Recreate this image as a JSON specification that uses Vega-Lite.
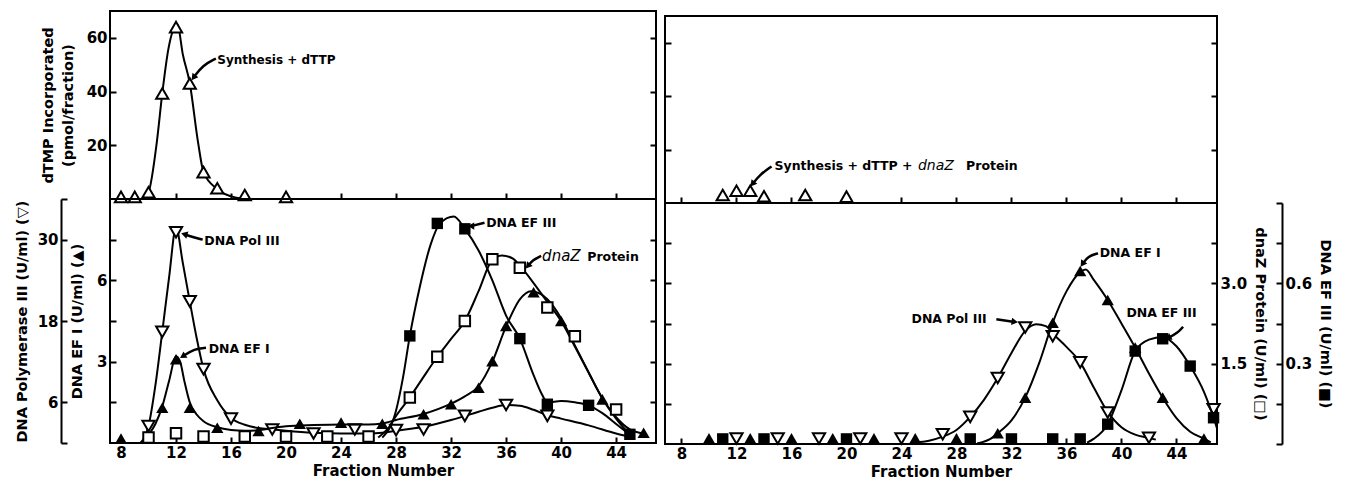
{
  "$schema": "https://vega.github.io/schema/vega-lite/v6.json",
  "background": "white",
  "padding": {"left": 13, "top": 10, "right": 5, "bottom": 5},
  "spacing": 5,
  "bounds": "full",
  "config": {
    "font": "DejaVu Sans",
    "view": {"stroke": "black", "strokeWidth": 2},
    "axis": {"domain": false, "grid": false, "ticks": true, "tickColor": "black", "tickWidth": 2, "tickSize": -6,
      "labelFont": "DejaVu Sans", "labelFontSize": 15, "labelFontWeight": "bold", "labelColor": "black", "labelPadding": 9,
      "titleFont": "DejaVu Sans", "titleFontSize": 14.5, "titleFontWeight": "bold", "titleColor": "black", "titlePadding": 4}
  },
  "datasets": {
    "A_pts": [{"f":8,"v":0.8},{"f":9,"v":0.8},{"f":10,"v":2.5},{"f":11,"v":39.3},{"f":12,"v":64},{"f":13,"v":43},{"f":14,"v":10},{"f":15,"v":4},{"f":17,"v":1.5},{"f":20,"v":0.8}],
    "A_curve": [{"f":9.6,"v":0.3},{"f":10,"v":2.5},{"f":10.6,"v":21},{"f":11,"v":39.3},{"f":11.45,"v":56},{"f":12.1,"v":65},{"f":12.5,"v":53.7},{"f":13,"v":43.1},{"f":13.6,"v":21.2},{"f":14,"v":10},{"f":15,"v":3.7},{"f":16.3,"v":0.6},{"f":17.3,"v":0.1}],
    "A_txt": [{"f":15.0,"v":51.9,"t":"Synthesis + dTTP"}],
    "A_arr": [{"id":1,"o":0,"f":14.9,"v":52.3},{"id":1,"o":1,"f":13.94,"v":49.8},{"id":1,"o":2,"f":13.27,"v":45.2}],
    "C_pts": [{"f":11,"v":3},{"f":12,"v":4.6},{"f":13,"v":4.6},{"f":14,"v":2.5},{"f":17,"v":3},{"f":20,"v":2.4}],
    "C_txt": [{"f":14.77,"v":13.7,"t":"Synthesis + dTTP +"},{"f":28.7,"v":13.7,"t":"Protein"}],
    "C_ital": [{"f":25.2,"v":13.9,"t":"dnaZ"}],
    "C_arr": [{"id":1,"o":0,"f":14.55,"v":13.7},{"id":1,"o":1,"f":13.7,"v":10.6},{"id":1,"o":2,"f":13.16,"v":7.1}],
    "B_pol_pts": [{"f":10,"v":2.5},{"f":11,"v":16.4},{"f":12,"v":31.1},{"f":13,"v":20.9},{"f":14,"v":10.9},{"f":16,"v":3.6},{"f":19,"v":2.0},{"f":22,"v":1.4},{"f":25,"v":2.0},{"f":28,"v":1.9},{"f":30,"v":2.0},{"f":33,"v":4.0},{"f":36,"v":5.6},{"f":39,"v":4.0}],
    "B_pol_curve": [{"f":9.4,"v":0},{"f":10,"v":2.5},{"f":10.5,"v":8.5},{"f":11,"v":16.4},{"f":11.5,"v":24.5},{"f":12,"v":31.8},{"f":12.5,"v":26.5},{"f":13,"v":20.9},{"f":13.5,"v":15.5},{"f":14,"v":10.9},{"f":15,"v":6.3},{"f":16,"v":3.7},{"f":17,"v":2.7},{"f":18,"v":2.2},{"f":19,"v":2.0},{"f":20,"v":1.8},{"f":22,"v":1.5},{"f":24,"v":1.4},{"f":26,"v":1.4},{"f":27,"v":1.5},{"f":28,"v":1.8},{"f":30,"v":2.4},{"f":32,"v":3.4},{"f":34,"v":4.6},{"f":35,"v":5.2},{"f":36,"v":5.6},{"f":37,"v":5.5},{"f":38,"v":4.9},{"f":39,"v":4.1},{"f":40,"v":3.6},{"f":42,"v":2.6},{"f":44,"v":1.4},{"f":45,"v":0.9}],
    "B_ef1_pts": [{"f":8,"v":0.16},{"f":11,"v":1.3},{"f":12,"v":3.09},{"f":13,"v":1.3},{"f":15,"v":0.56},{"f":18,"v":0.44},{"f":21,"v":0.71},{"f":24,"v":0.75},{"f":27,"v":0.71},{"f":30,"v":1.06},{"f":32,"v":1.43},{"f":34,"v":2.04},{"f":35,"v":3.02},{"f":36,"v":4.32},{"f":38,"v":5.56},{"f":40,"v":4.5},{"f":43,"v":1.61},{"f":46,"v":0.38}],
    "B_ef1_curve": [{"f":9.5,"v":0},{"f":10,"v":0.3},{"f":10.5,"v":0.7},{"f":11,"v":1.35},{"f":11.5,"v":2.3},{"f":12,"v":3.2},{"f":12.3,"v":3.0},{"f":12.6,"v":2.3},{"f":13,"v":1.5},{"f":13.5,"v":1.05},{"f":14,"v":0.8},{"f":15,"v":0.58},{"f":16,"v":0.48},{"f":17,"v":0.45},{"f":18,"v":0.47},{"f":19,"v":0.55},{"f":20,"v":0.62},{"f":22,"v":0.66},{"f":24,"v":0.68},{"f":26,"v":0.68},{"f":27,"v":0.72},{"f":28,"v":0.85},{"f":30,"v":1.07},{"f":32,"v":1.45},{"f":33,"v":1.72},{"f":34,"v":2.1},{"f":35,"v":3.0},{"f":36,"v":4.3},{"f":37,"v":5.3},{"f":37.8,"v":5.6},{"f":38.5,"v":5.5},{"f":39,"v":5.3},{"f":40,"v":4.6},{"f":41,"v":3.6},{"f":42,"v":2.6},{"f":43,"v":1.65},{"f":44,"v":0.95},{"f":45,"v":0.5},{"f":46,"v":0.35}],
    "B_dz_pts": [{"f":10,"v":0.1},{"f":12,"v":0.18},{"f":14,"v":0.12},{"f":17,"v":0.12},{"f":20,"v":0.12},{"f":23,"v":0.12},{"f":26,"v":0.12},{"f":29,"v":0.84},{"f":31,"v":1.59},{"f":33,"v":2.25},{"f":35,"v":3.39},{"f":37,"v":3.23},{"f":39,"v":2.5},{"f":41,"v":1.97},{"f":44,"v":0.62}],
    "B_dz_curve": [{"f":26.7,"v":0.1},{"f":27.5,"v":0.3},{"f":28,"v":0.5},{"f":29,"v":0.84},{"f":30,"v":1.22},{"f":31,"v":1.59},{"f":32,"v":1.92},{"f":33,"v":2.25},{"f":34,"v":2.8},{"f":35,"v":3.38},{"f":35.7,"v":3.46},{"f":36.5,"v":3.4},{"f":37,"v":3.27},{"f":38,"v":2.95},{"f":39,"v":2.6},{"f":40,"v":2.25},{"f":41,"v":1.78},{"f":42,"v":1.3},{"f":43,"v":0.82},{"f":44,"v":0.45},{"f":45,"v":0.15}],
    "B_ef3_pts": [{"f":29,"v":0.395},{"f":31,"v":0.81},{"f":33,"v":0.79},{"f":37,"v":0.385},{"f":39,"v":0.143},{"f":42,"v":0.139},{"f":45,"v":0.032}],
    "B_ef3_curve": [{"f":27,"v":0.02},{"f":28,"v":0.12},{"f":28.5,"v":0.24},{"f":29,"v":0.395},{"f":29.7,"v":0.57},{"f":30.5,"v":0.73},{"f":31.2,"v":0.81},{"f":32.2,"v":0.835},{"f":33,"v":0.79},{"f":34,"v":0.71},{"f":35,"v":0.6},{"f":36,"v":0.47},{"f":37,"v":0.385},{"f":38,"v":0.25},{"f":38.6,"v":0.18},{"f":39,"v":0.15},{"f":40,"v":0.155},{"f":41,"v":0.15},{"f":42,"v":0.139},{"f":43,"v":0.11},{"f":44,"v":0.07},{"f":45,"v":0.03}],
    "B_txt": [{"f":14.06,"v":29.8,"t":"DNA Pol III"},{"f":14.38,"v":13.8,"t":"DNA EF I"},{"f":34.55,"v":32.5,"t":"DNA EF III"},{"f":41.9,"v":27.5,"t":"Protein"}],
    "B_ital": [{"f":38.62,"v":27.6,"t":"dnaZ"}],
    "B_arr": [{"id":1,"o":0,"f":13.94,"v":30.0},{"id":1,"o":1,"f":13.2,"v":30.4},{"id":1,"o":2,"f":12.6,"v":30.8},
              {"id":2,"o":0,"f":14.18,"v":14.06},{"id":2,"o":1,"f":13.34,"v":13.9},{"id":2,"o":2,"f":12.49,"v":12.8},
              {"id":3,"o":0,"f":34.43,"v":32.5},{"id":3,"o":1,"f":33.45,"v":32.0},
              {"id":4,"o":0,"f":38.55,"v":27.6},{"id":4,"o":1,"f":37.94,"v":27.0},{"id":4,"o":2,"f":37.58,"v":26.1}],
    "D_pol_pts": [{"f":12,"v":0.82},{"f":15,"v":0.82},{"f":18,"v":0.82},{"f":21,"v":0.82},{"f":24,"v":0.82},{"f":27,"v":1.45},{"f":29,"v":4.05},{"f":31,"v":9.85},{"f":33,"v":17.4},{"f":35,"v":16.1},{"f":37,"v":12.2},{"f":39,"v":4.7},{"f":42,"v":0.94},{"f":46.7,"v":5.2}],
    "D_pol_curve": [{"f":25,"v":0.25},{"f":26,"v":0.5},{"f":27,"v":1.1},{"f":28,"v":2.1},{"f":29,"v":4.05},{"f":30,"v":6.6},{"f":31,"v":9.85},{"f":32,"v":13.6},{"f":33,"v":16.9},{"f":33.8,"v":17.9},{"f":34.5,"v":17.6},{"f":35,"v":16.5},{"f":36,"v":14.5},{"f":37,"v":12.2},{"f":38,"v":8.4},{"f":39,"v":4.8},{"f":40,"v":2.5},{"f":41,"v":1.4},{"f":42,"v":0.9},{"f":42.5,"v":0.65}],
    "D_ef1_pts": [{"f":10,"v":0.21},{"f":13,"v":0.21},{"f":16,"v":0.21},{"f":19,"v":0.21},{"f":22,"v":0.21},{"f":25,"v":0.21},{"f":28,"v":0.21},{"f":31,"v":0.4},{"f":33,"v":1.73},{"f":35,"v":4.53},{"f":37,"v":6.46},{"f":39,"v":5.38},{"f":41,"v":3.6},{"f":43,"v":1.73},{"f":46,"v":0.2}],
    "D_ef1_curve": [{"f":29.5,"v":0.02},{"f":30.5,"v":0.2},{"f":31,"v":0.4},{"f":32,"v":0.88},{"f":33,"v":1.73},{"f":34,"v":3.0},{"f":35,"v":4.53},{"f":36,"v":5.7},{"f":37,"v":6.42},{"f":37.4,"v":6.52},{"f":38,"v":6.12},{"f":39,"v":5.38},{"f":40,"v":4.5},{"f":41,"v":3.6},{"f":42,"v":2.63},{"f":43,"v":1.73},{"f":44,"v":0.97},{"f":45,"v":0.46},{"f":46,"v":0.2},{"f":46.5,"v":0.06}],
    "D_ef3_pts": [{"f":11,"v":0.019},{"f":14,"v":0.019},{"f":20,"v":0.019},{"f":29,"v":0.019},{"f":32,"v":0.019},{"f":35,"v":0.019},{"f":37,"v":0.019},{"f":39,"v":0.074},{"f":41,"v":0.347},{"f":43,"v":0.393},{"f":45,"v":0.291},{"f":46.7,"v":0.098}],
    "D_ef3_curve": [{"f":37.5,"v":0.005},{"f":38,"v":0.02},{"f":39,"v":0.074},{"f":40,"v":0.2},{"f":41,"v":0.347},{"f":42,"v":0.39},{"f":43,"v":0.4},{"f":44,"v":0.365},{"f":45,"v":0.291},{"f":46,"v":0.195},{"f":46.7,"v":0.098},{"f":47,"v":0.05}],
    "D_txt": [{"f":24.73,"v":2.34,"t":"DNA Pol III"},{"f":38.42,"v":3.57,"t":"DNA EF I"},{"f":40.36,"v":2.44,"t":"DNA EF III"}],
    "D_arr": [{"id":1,"o":0,"f":30.9,"v":2.33},{"id":1,"o":1,"f":32.24,"v":2.28},
              {"id":2,"o":0,"f":38.3,"v":3.56},{"id":2,"o":1,"f":37.57,"v":3.51},{"id":2,"o":2,"f":37.16,"v":3.36},
              {"id":3,"o":0,"f":44.48,"v":2.19},{"id":3,"o":1,"f":44.12,"v":2.08},{"id":3,"o":2,"f":43.39,"v":1.98}]
  },
  "hconcat": [
    {
      "spacing": 0,
      "bounds": "flush",
      "vconcat": [
        {
          "width": 546, "height": 188,
          "encoding": {"x": {"field": "f", "type": "quantitative", "scale": {"domain": [7.2, 46.9], "nice": false, "zero": false},
            "axis": {"values": [8,12,16,20,24,28,32,36,40,44], "labels": false, "title": null}}},
          "layer": [
            {
              "encoding": {"y": {"field": "v", "type": "quantitative", "scale": {"domain": [0, 70], "nice": false},
                "axis": {"orient": "left", "values": [20, 40, 60], "title": ["dTMP Incorporated", "(pmol/fraction)"], "titleLineHeight": 20, "titlePadding": 11}}},
              "layer": [
                {"data": {"name": "A_curve"}, "mark": {"type": "line", "interpolate": "monotone", "color": "black", "strokeWidth": 2, "clip": true}, "encoding": {}},
                {"data": {"name": "A_pts"}, "mark": {"type": "point", "shape": "triangle-up", "filled": true, "fill": "white", "stroke": "black", "strokeWidth": 2, "size": 150, "opacity": 1}, "encoding": {}}
              ]
            },
            {
              "encoding": {"y": {"field": "v", "type": "quantitative", "scale": {"domain": [0, 70], "nice": false},
                "axis": {"orient": "right", "values": [20, 40, 60], "labels": false, "title": null}}},
              "layer": [
                {"data": {"name": "A_txt"}, "mark": {"type": "text", "align": "left", "baseline": "middle", "font": "DejaVu Sans", "fontSize": 12, "fontWeight": "bold", "color": "black"}, "encoding": {"text": {"field": "t"}}},
                {"data": {"name": "A_arr"}, "mark": {"type": "line", "interpolate": "basis", "color": "black", "strokeWidth": 2.5}, "encoding": {"detail": {"field": "id"}, "order": {"field": "o"}}},
                {"data": {"name": "A_arr"}, "transform": [{"filter": "datum.id == 1 && datum.o == 2"}], "mark": {"type": "point", "shape": "triangle-up", "angle": 217, "filled": true, "color": "black", "size": 55, "opacity": 1}, "encoding": {}},
                {"data": {"values": [{}]}, "mark": {"type": "text", "align": "left", "baseline": "middle", "font": "DejaVu Sans", "fontSize": 15, "fontWeight": "bold", "color": "black"},
                  "encoding": {"x": {"datum": 8.41}, "y": {"datum": 62.5}, "text": {"value": "A"}}}
              ]
            }
          ],
          "resolve": {"scale": {"y": "independent"}, "axis": {"y": "independent"}}
        },
        {
          "width": 546, "height": 244,
          "encoding": {"x": {"field": "f", "type": "quantitative", "scale": {"domain": [7.2, 46.9], "nice": false, "zero": false},
            "axis": {"values": [8,12,16,20,24,28,32,36,40,44], "labelPadding": 8, "title": "Fraction Number", "titleFontSize": 15, "titlePadding": 3}}},
          "layer": [
            {
              "encoding": {"y": {"field": "v", "type": "quantitative", "scale": {"domain": [0, 36], "nice": false},
                "axis": {"orient": "left", "offset": 49, "values": [0, 6, 18, 30, 36], "labelExpr": "datum.value == 0 || datum.value == 36 ? '' : datum.label",
                  "domain": true, "domainColor": "black", "domainWidth": 2, "title": "DNA Polymerase III (U/ml) (▽)", "titlePadding": 8}}},
              "layer": [
                {"data": {"name": "B_pol_curve"}, "mark": {"type": "line", "interpolate": "monotone", "color": "black", "strokeWidth": 2, "clip": true}, "encoding": {}},
                {"data": {"name": "B_pol_pts"}, "mark": {"type": "point", "shape": "triangle-down", "filled": true, "fill": "white", "stroke": "black", "strokeWidth": 2, "size": 150, "opacity": 1}, "encoding": {}}
              ]
            },
            {
              "encoding": {"y": {"field": "v", "type": "quantitative", "scale": {"domain": [0, 9], "nice": false},
                "axis": {"orient": "left", "values": [1.5, 3, 4.5, 6, 7.5], "labelExpr": "datum.value == 3 || datum.value == 6 ? datum.label : ''",
                  "title": "DNA EF I (U/ml) (▲)", "titlePadding": 12}}},
              "layer": [
                {"data": {"name": "B_ef1_curve"}, "mark": {"type": "line", "interpolate": "monotone", "color": "black", "strokeWidth": 2, "clip": true}, "encoding": {}},
                {"data": {"name": "B_ef1_pts"}, "mark": {"type": "point", "shape": "triangle-up", "filled": true, "color": "black", "size": 150, "opacity": 1}, "encoding": {}}
              ]
            },
            {
              "encoding": {"y": {"field": "v", "type": "quantitative", "scale": {"domain": [0, 4.5], "nice": false}, "axis": null}},
              "layer": [
                {"data": {"name": "B_dz_curve"}, "mark": {"type": "line", "interpolate": "monotone", "color": "black", "strokeWidth": 2, "clip": true}, "encoding": {}},
                {"data": {"name": "B_dz_pts"}, "mark": {"type": "point", "shape": "square", "filled": true, "fill": "white", "stroke": "black", "strokeWidth": 2, "size": 110, "opacity": 1}, "encoding": {}}
              ]
            },
            {
              "encoding": {"y": {"field": "v", "type": "quantitative", "scale": {"domain": [0, 0.9], "nice": false}, "axis": null}},
              "layer": [
                {"data": {"name": "B_ef3_curve"}, "mark": {"type": "line", "interpolate": "monotone", "color": "black", "strokeWidth": 2, "clip": true}, "encoding": {}},
                {"data": {"name": "B_ef3_pts"}, "mark": {"type": "point", "shape": "square", "filled": true, "color": "black", "size": 130, "opacity": 1}, "encoding": {}}
              ]
            },
            {
              "encoding": {"y": {"field": "v", "type": "quantitative", "scale": {"domain": [0, 36], "nice": false},
                "axis": {"orient": "right", "values": [6, 12, 18, 24, 30], "labels": false, "title": null}}},
              "layer": [
                {"data": {"name": "B_txt"}, "mark": {"type": "text", "align": "left", "baseline": "middle", "font": "DejaVu Sans", "fontSize": 12.5, "fontWeight": "bold", "color": "black"}, "encoding": {"text": {"field": "t"}}},
                {"data": {"name": "B_ital"}, "mark": {"type": "text", "align": "left", "baseline": "middle", "font": "DejaVu Sans", "fontSize": 15, "fontStyle": "italic", "color": "black"}, "encoding": {"text": {"field": "t"}}},
                {"data": {"name": "B_arr"}, "mark": {"type": "line", "interpolate": "basis", "color": "black", "strokeWidth": 2.5}, "encoding": {"detail": {"field": "id"}, "order": {"field": "o"}}},
                {"data": {"name": "B_arr"}, "transform": [{"filter": "datum.id == 1 && datum.o == 2"}], "mark": {"type": "point", "shape": "triangle-up", "angle": 286, "filled": true, "color": "black", "size": 55, "opacity": 1}, "encoding": {}},
                {"data": {"name": "B_arr"}, "transform": [{"filter": "datum.id == 2 && datum.o == 2"}], "mark": {"type": "point", "shape": "triangle-up", "angle": 238, "filled": true, "color": "black", "size": 55, "opacity": 1}, "encoding": {}},
                {"data": {"name": "B_arr"}, "transform": [{"filter": "datum.id == 3 && datum.o == 1"}], "mark": {"type": "point", "shape": "triangle-up", "angle": 270, "filled": true, "color": "black", "size": 55, "opacity": 1}, "encoding": {}},
                {"data": {"name": "B_arr"}, "transform": [{"filter": "datum.id == 4 && datum.o == 2"}], "mark": {"type": "point", "shape": "triangle-up", "angle": 220, "filled": true, "color": "black", "size": 55, "opacity": 1}, "encoding": {}},
                {"data": {"values": [{}]}, "mark": {"type": "text", "align": "left", "baseline": "middle", "font": "DejaVu Sans", "fontSize": 15, "fontWeight": "bold", "color": "black"},
                  "encoding": {"x": {"datum": 8.25}, "y": {"datum": 32.6}, "text": {"value": "B"}}}
              ]
            }
          ],
          "resolve": {"scale": {"y": "independent"}, "axis": {"y": "independent"}}
        }
      ]
    },
    {
      "spacing": 0,
      "bounds": "flush",
      "vconcat": [
        {"width": 552, "height": 5, "data": {"values": []}, "mark": "point", "view": {"stroke": null}},
        {
          "width": 552, "height": 187,
          "encoding": {"x": {"field": "f", "type": "quantitative", "scale": {"domain": [6.8, 46.95], "nice": false, "zero": false},
            "axis": {"values": [8,12,16,20,24,28,32,36,40,44], "labels": false, "title": null}}},
          "layer": [
            {
              "encoding": {"y": {"field": "v", "type": "quantitative", "scale": {"domain": [0, 70], "nice": false},
                "axis": {"orient": "left", "values": [20, 40, 60], "labels": false, "title": null}}},
              "layer": [
                {"data": {"name": "C_pts"}, "mark": {"type": "point", "shape": "triangle-up", "filled": true, "fill": "white", "stroke": "black", "strokeWidth": 2, "size": 150, "opacity": 1}, "encoding": {}}
              ]
            },
            {
              "encoding": {"y": {"field": "v", "type": "quantitative", "scale": {"domain": [0, 70], "nice": false},
                "axis": {"orient": "right", "values": [20, 40, 60], "labels": false, "title": null}}},
              "layer": [
                {"data": {"name": "C_txt"}, "mark": {"type": "text", "align": "left", "baseline": "middle", "font": "DejaVu Sans", "fontSize": 12.5, "fontWeight": "bold", "color": "black"}, "encoding": {"text": {"field": "t"}}},
                {"data": {"name": "C_ital"}, "mark": {"type": "text", "align": "left", "baseline": "middle", "font": "DejaVu Sans", "fontSize": 14, "fontStyle": "italic", "color": "black"}, "encoding": {"text": {"field": "t"}}},
                {"data": {"name": "C_arr"}, "mark": {"type": "line", "interpolate": "basis", "color": "black", "strokeWidth": 2.5}, "encoding": {"detail": {"field": "id"}, "order": {"field": "o"}}},
                {"data": {"name": "C_arr"}, "transform": [{"filter": "datum.id == 1 && datum.o == 2"}], "mark": {"type": "point", "shape": "triangle-up", "angle": 218, "filled": true, "color": "black", "size": 55, "opacity": 1}, "encoding": {}},
                {"data": {"values": [{}]}, "mark": {"type": "text", "align": "left", "baseline": "middle", "font": "DejaVu Sans", "fontSize": 15, "fontWeight": "bold", "color": "black"},
                  "encoding": {"x": {"datum": 8.24}, "y": {"datum": 62.8}, "text": {"value": "C"}}}
              ]
            }
          ],
          "resolve": {"scale": {"y": "independent"}, "axis": {"y": "independent"}}
        },
        {
          "width": 552, "height": 241,
          "encoding": {"x": {"field": "f", "type": "quantitative", "scale": {"domain": [6.8, 46.95], "nice": false, "zero": false},
            "axis": {"values": [8,12,16,20,24,28,32,36,40,44], "labelPadding": 8, "title": "Fraction Number", "titleFontSize": 15, "titlePadding": 3}}},
          "layer": [
            {
              "encoding": {"y": {"field": "v", "type": "quantitative", "scale": {"domain": [0, 36], "nice": false},
                "axis": {"orient": "left", "values": [6, 12, 18, 24, 30], "labels": false, "title": null}}},
              "layer": [
                {"data": {"name": "D_pol_curve"}, "mark": {"type": "line", "interpolate": "monotone", "color": "black", "strokeWidth": 2, "clip": true}, "encoding": {}},
                {"data": {"name": "D_pol_pts"}, "mark": {"type": "point", "shape": "triangle-down", "filled": true, "fill": "white", "stroke": "black", "strokeWidth": 2, "size": 150, "opacity": 1}, "encoding": {}}
              ]
            },
            {
              "encoding": {"y": {"field": "v", "type": "quantitative", "scale": {"domain": [0, 9], "nice": false}, "axis": null}},
              "layer": [
                {"data": {"name": "D_ef1_curve"}, "mark": {"type": "line", "interpolate": "monotone", "color": "black", "strokeWidth": 2, "clip": true}, "encoding": {}},
                {"data": {"name": "D_ef1_pts"}, "mark": {"type": "point", "shape": "triangle-up", "filled": true, "color": "black", "size": 150, "opacity": 1}, "encoding": {}}
              ]
            },
            {
              "encoding": {"y": {"field": "v", "type": "quantitative", "scale": {"domain": [0, 0.9], "nice": false},
                "axis": {"orient": "right", "offset": 65, "values": [0, 0.15, 0.3, 0.45, 0.6, 0.75, 0.9],
                  "labelExpr": "abs(datum.value - 0.3) < 0.001 || abs(datum.value - 0.6) < 0.001 ? format(datum.value, '.1f') : ''",
                  "domain": true, "domainColor": "black", "domainWidth": 2, "title": "DNA EF III (U/ml) (■)", "titlePadding": 6}}},
              "layer": [
                {"data": {"name": "D_ef3_curve"}, "mark": {"type": "line", "interpolate": "monotone", "color": "black", "strokeWidth": 2, "clip": true}, "encoding": {}},
                {"data": {"name": "D_ef3_pts"}, "mark": {"type": "point", "shape": "square", "filled": true, "color": "black", "size": 130, "opacity": 1}, "encoding": {}}
              ]
            },
            {
              "encoding": {"y": {"field": "v", "type": "quantitative", "scale": {"domain": [0, 4.5], "nice": false},
                "axis": {"orient": "right", "values": [0.75, 1.5, 2.25, 3, 3.75], "labelExpr": "datum.value == 1.5 || datum.value == 3 ? format(datum.value, '.1f') : ''",
                  "title": "dnaZ Protein (U/ml) (□)", "titlePadding": 6}}},
              "layer": [
                {"data": {"name": "D_txt"}, "mark": {"type": "text", "align": "left", "baseline": "middle", "font": "DejaVu Sans", "fontSize": 12.5, "fontWeight": "bold", "color": "black"}, "encoding": {"text": {"field": "t"}}},
                {"data": {"name": "D_arr"}, "mark": {"type": "line", "interpolate": "basis", "color": "black", "strokeWidth": 2.5}, "encoding": {"detail": {"field": "id"}, "order": {"field": "o"}}},
                {"data": {"name": "D_arr"}, "transform": [{"filter": "datum.id == 1 && datum.o == 1"}], "mark": {"type": "point", "shape": "triangle-up", "angle": 98, "filled": true, "color": "black", "size": 55, "opacity": 1}, "encoding": {}},
                {"data": {"name": "D_arr"}, "transform": [{"filter": "datum.id == 2 && datum.o == 2"}], "mark": {"type": "point", "shape": "triangle-up", "angle": 214, "filled": true, "color": "black", "size": 55, "opacity": 1}, "encoding": {}},
                {"data": {"name": "D_arr"}, "transform": [{"filter": "datum.id == 3 && datum.o == 2"}], "mark": {"type": "point", "shape": "triangle-up", "angle": 243, "filled": true, "color": "black", "size": 55, "opacity": 1}, "encoding": {}},
                {"data": {"values": [{}]}, "mark": {"type": "text", "align": "left", "baseline": "middle", "font": "DejaVu Sans", "fontSize": 15, "fontWeight": "bold", "color": "black"},
                  "encoding": {"x": {"datum": 8.12}, "y": {"datum": 4.13}, "text": {"value": "D"}}}
              ]
            }
          ],
          "resolve": {"scale": {"y": "independent"}, "axis": {"y": "independent"}}
        }
      ]
    }
  ]
}
